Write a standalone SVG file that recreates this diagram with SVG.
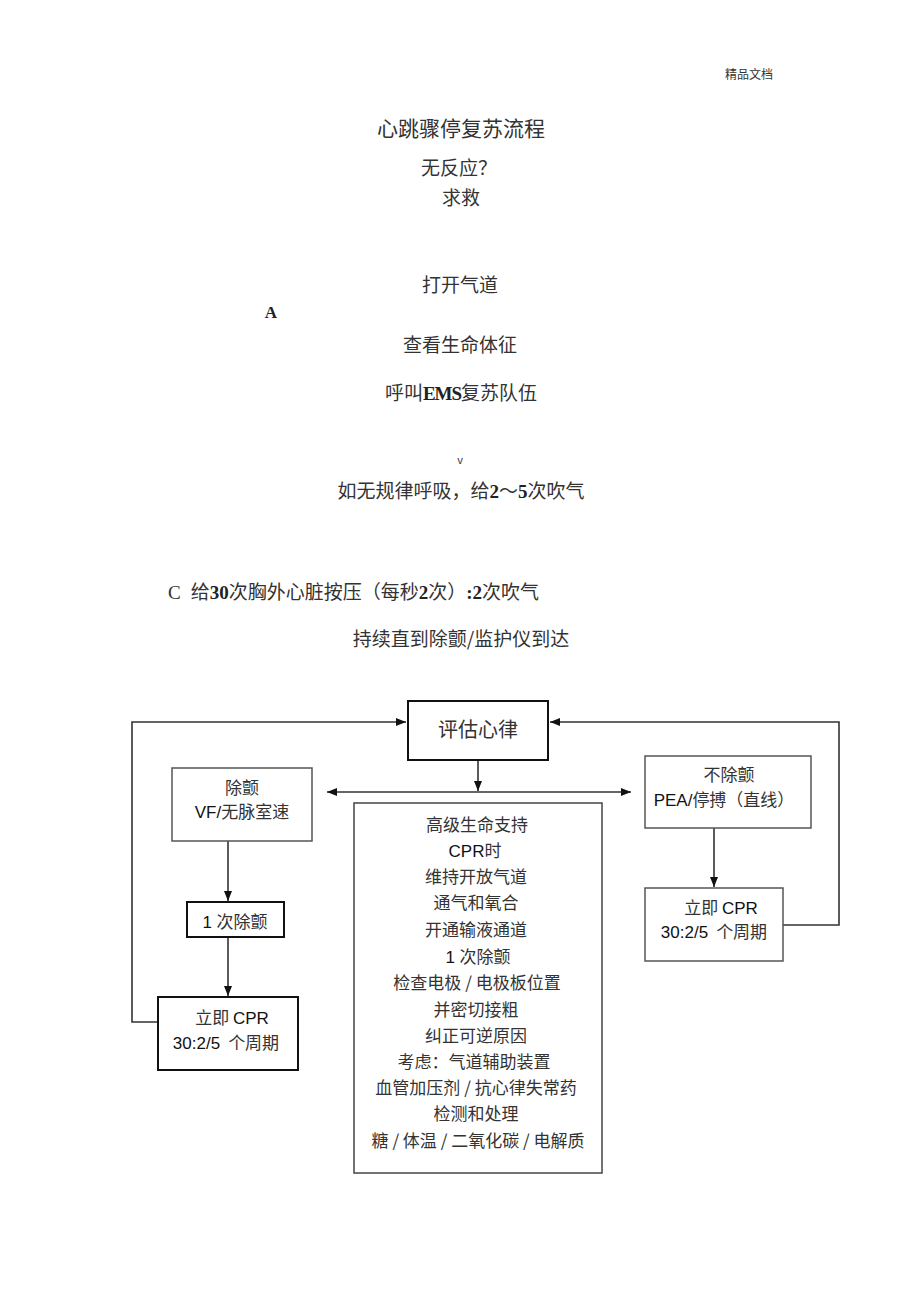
<svg xmlns="http://www.w3.org/2000/svg" width="920" height="1303" viewBox="0 0 920 1303">
<defs>
<marker id="ah" viewBox="0 0 10 10" refX="10" refY="5" markerWidth="10" markerHeight="10" markerUnits="userSpaceOnUse" orient="auto">
<path d="M0,1 L10,5 L0,9 Z" fill="#111"/>
</marker>
</defs>
<style>
.t{font-family:"Noto Sans CJK SC","Liberation Sans",sans-serif;fill:#333;text-anchor:middle}
.st{text-anchor:start}
.s{font-family:"Liberation Serif","Noto Sans CJK SC",serif;fill:#222;text-anchor:middle}
.b{fill:#fff;stroke:#555;stroke-width:1.5}
.bk{fill:#fff;stroke:#111;stroke-width:2}
.ln{fill:none;stroke:#333;stroke-width:1.6}
.la{font-family:"Liberation Sans",Arial,sans-serif;fill:#111}
.sb{font-family:"Liberation Serif",serif;font-weight:bold;fill:#222}
</style>
<rect width="920" height="1303" fill="#fff"/>

<g id="header">
<text class="t" x="749" y="79" font-size="12">精品文档</text>
</g>
<g id="top-text">
<text class="t" x="461" y="136" font-size="21">心跳骤停复苏流程</text>
<text class="t" x="459" y="175" font-size="19">无反应？</text>
<text class="t" x="461" y="205" font-size="19">求救</text>
<text class="t" x="460" y="292" font-size="19">打开气道</text>
<text class="s" x="271" y="318" font-size="17" font-weight="bold">A</text>
<text class="t" x="460" y="352" font-size="19">查看生命体征</text>
<text class="t" x="461" y="400" font-size="19">呼叫<tspan class="sb" letter-spacing="-1">EMS</tspan>复苏队伍</text>
<text class="t" x="460" y="464" font-size="11">v</text>
<text class="t" x="461" y="498" font-size="19">如无规律呼吸，给<tspan class="sb">2</tspan>～<tspan class="sb">5</tspan>次吹气</text>
<text class="t st" x="168" y="599" font-size="19"><tspan font-family="Liberation Serif">C</tspan><tspan dx="10">给</tspan><tspan class="sb">30</tspan>次胸外心脏按压（每秒<tspan class="sb">2</tspan>次）<tspan class="sb">:2</tspan>次吹气</text>
<text class="t" x="461" y="646" font-size="19">持续直到除颤/监护仪到达</text>
</g>

<g id="connectors">
<path class="ln" d="M158,1022 H132 V722 H406" marker-end="url(#ah)"/>
<path class="ln" d="M783,925 H839 V722 H550" marker-end="url(#ah)"/>
<path class="ln" d="M478,760 V791" marker-end="url(#ah)"/>
<path class="ln" d="M478,792 H327" marker-end="url(#ah)"/>
<path class="ln" d="M478,792 H631" marker-end="url(#ah)"/>
<path class="ln" d="M228,841 V901" marker-end="url(#ah)"/>
<path class="ln" d="M228,937 V996" marker-end="url(#ah)"/>
<path class="ln" d="M714,828 V887" marker-end="url(#ah)"/>
</g>

<g id="assess">
<rect class="bk" x="408" y="701" width="140" height="59"/>
<text class="t" x="478" y="737" font-size="20">评估心律</text>
</g>

<g id="shockable">
<rect class="b" x="172" y="768" width="140" height="73"/>
<text class="t" x="242" y="794" font-size="17">除颤</text>
<text class="t" x="242" y="818" font-size="17"><tspan class="la">VF/</tspan>无脉室速</text>
</g>

<g id="shock1">
<rect class="bk" x="187" y="902" width="97" height="35"/>
<text class="t" x="235" y="928" font-size="17"><tspan class="la">1 </tspan>次除颤</text>
</g>

<g id="cpr-left">
<rect class="bk" x="158" y="997" width="140" height="73"/>
<text class="t" x="232" y="1024" font-size="17">立即 <tspan class="la">CPR</tspan></text>
<text class="t" x="226" y="1049" font-size="17"><tspan class="la">30:2/5</tspan><tspan dx="8">个周期</tspan></text>
</g>

<g id="als">
<rect x="354" y="803" width="248" height="370" fill="#fff" stroke="#444" stroke-width="1.5"/>
<text class="t" x="477" y="831" font-size="17">高级生命支持</text>
<text class="t" x="475" y="857" font-size="17"><tspan class="la">CPR</tspan>时</text>
<text class="t" x="476" y="883" font-size="17">维持开放气道</text>
<text class="t" x="476" y="909" font-size="17">通气和氧合</text>
<text class="t" x="476" y="936" font-size="17">开通输液通道</text>
<text class="t" x="478" y="963" font-size="17"><tspan class="la">1 </tspan>次除颤</text>
<text class="t" x="477" y="989" font-size="17">检查电极 / 电极板位置</text>
<text class="t" x="476" y="1016" font-size="17">并密切接粗</text>
<text class="t" x="476" y="1042" font-size="17">纠正可逆原因</text>
<text class="t" x="474" y="1068" font-size="17">考虑：气道辅助装置</text>
<text class="t" x="476" y="1094" font-size="17">血管加压剂 / 抗心律失常药</text>
<text class="t" x="476" y="1120" font-size="17">检测和处理</text>
<text class="t" x="478" y="1147" font-size="17">糖 / 体温 / 二氧化碳 / 电解质</text>
</g>

<g id="nonshockable">
<rect class="b" x="645" y="756" width="166" height="72"/>
<text class="t" x="729" y="781" font-size="17">不除颤</text>
<text class="t" x="724" y="806" font-size="17"><tspan class="la">PEA/</tspan>停搏（直线）</text>
</g>

<g id="cpr-right">
<rect class="b" x="645" y="888" width="138" height="73"/>
<text class="t" x="721" y="914" font-size="17">立即 <tspan class="la">CPR</tspan></text>
<text class="t" x="714" y="938" font-size="17"><tspan class="la">30:2/5</tspan><tspan dx="8">个周期</tspan></text>
</g>
</svg>
